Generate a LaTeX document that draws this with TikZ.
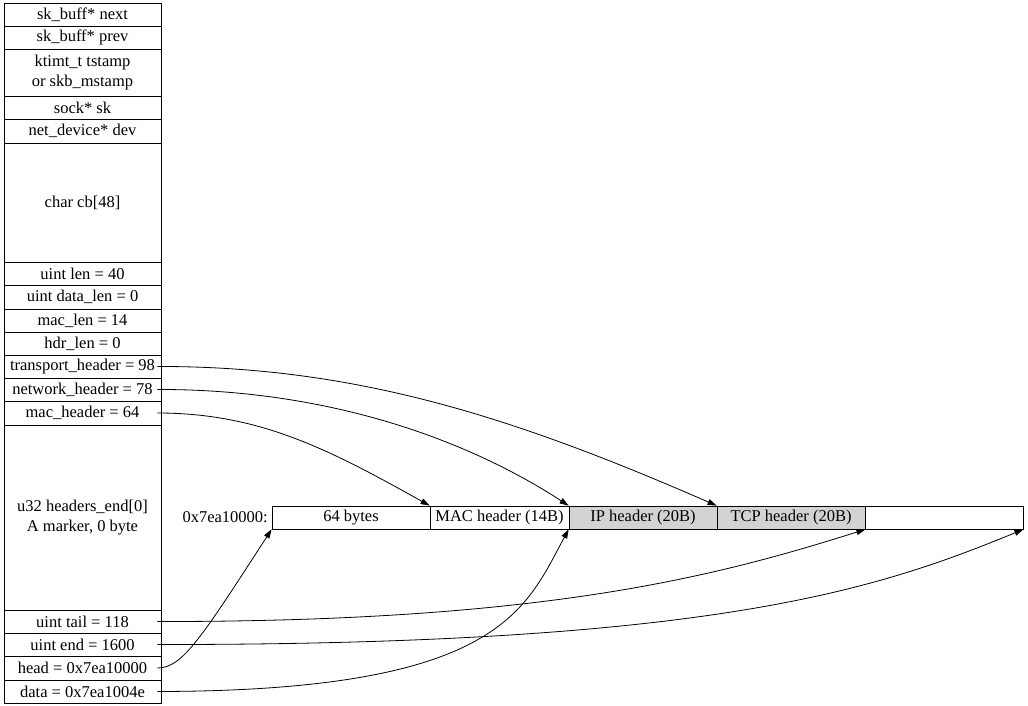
\documentclass[tikz,border=0pt]{standalone}
\usepackage{fontspec}
\setmainfont{Liberation Serif}
\usepackage{xcolor}
\usepackage{tikz}
\definecolor{hdrgray}{RGB}{211, 211, 211}
\usetikzlibrary{arrows.meta, positioning}

\begin{document}
\begin{tikzpicture}[
    x=1pt, y=-1pt,
    every node/.style={font=\fontsize{16.5}{19.5}\selectfont, inner sep=0pt},
    field/.style={draw, line width=0.8pt, minimum width=157pt, align=center},
    cell/.style={draw, line width=0.8pt, minimum height=23pt},
    ptr/.style={line width=0.8pt, -{Triangle[length=9pt, width=6pt]}}
]
    \useasboundingbox (0,0) rectangle (1028,706);

    % sk_buff record
    \node[field, minimum height=23pt] (next) at (82.5,14.5) {sk\_buff* next};
    \node[field, minimum height=23pt] (prev) at (82.5,37.5) {sk\_buff* prev};
    \node[field, minimum height=47pt] (tstamp) at (82.5,72.5) {ktimt\_t tstamp\\or skb\_mstamp};
    \node[field, minimum height=23pt] (sk) at (82.5,107.5) {sock* sk};
    \node[field, minimum height=24pt] (dev) at (82.5,131) {net\_device* dev};
    \node[field, minimum height=119pt] (cb) at (82.5,202.5) {char cb[48]};
    \node[field, minimum height=23pt] (len) at (82.5,273.5) {uint len = 40};
    \node[field, minimum height=24pt] (datalen) at (82.5,297) {uint data\_len = 0};
    \node[field, minimum height=23pt] (maclen) at (82.5,320.5) {mac\_len = 14};
    \node[field, minimum height=23pt] (hdrlen) at (82.5,343.5) {hdr\_len = 0};
    \node[field, minimum height=23pt] (transport) at (82.5,366.5) {transport\_header = 98};
    \node[field, minimum height=23pt] (network) at (82.5,389.5) {network\_header = 78};
    \node[field, minimum height=24pt] (machdr) at (82.5,413) {mac\_header = 64};
    \node[field, minimum height=185pt] (hend) at (82.5,517.5) {u32 headers\_end[0]\\A marker, 0 byte};
    \node[field, minimum height=23pt] (tail) at (82.5,621.5) {uint tail = 118};
    \node[field, minimum height=23pt] (end) at (82.5,644.5) {uint end = 1600};
    \node[field, minimum height=24pt] (head) at (82.5,668) {head = 0x7ea10000};
    \node[field, minimum height=23pt] (data) at (82.5,691.5) {data = 0x7ea1004e};

    % packet buffer
    \node[anchor=east] (addr) at (268,517.5) {0x7ea10000:};
    \node[cell, minimum width=158pt] (pad) at (351,517.5) {64 bytes};
    \node[cell, minimum width=139pt] (mac) at (499.5,517.5) {MAC header (14B)};
    \node[cell, minimum width=148pt, fill=hdrgray] (ip) at (643,517.5) {IP header (20B)};
    \node[cell, minimum width=148pt, fill=hdrgray] (tcp) at (791,517.5) {TCP header (20B)};
    \node[cell, minimum width=158pt] (room) at (944,517.5) {};

    % pointers into the buffer
    \draw[ptr] ([xshift=-4pt]transport.east) .. controls (360,366) and (520,420) .. (tcp.north west);
    \draw[ptr] ([xshift=-4pt]network.east) .. controls (320,389) and (460,435) .. (ip.north west);
    \draw[ptr] ([xshift=-4pt]machdr.east) .. controls (260,413) and (330,450) .. (mac.north west);
    \draw[ptr] ([xshift=-4pt]tail.east) .. controls (550,622) and (720,575) .. (tcp.south east);
    \draw[ptr] ([xshift=-4pt]end.east) .. controls (720,645) and (880,588) .. (room.south east);
    \draw[ptr] ([xshift=-4pt]head.east) .. controls (182,668) and (200,640) .. (pad.south west);
    \draw[ptr] ([xshift=-4pt]data.east) .. controls (500,691) and (525,610) .. (ip.south west);
\end{tikzpicture}
\end{document}
